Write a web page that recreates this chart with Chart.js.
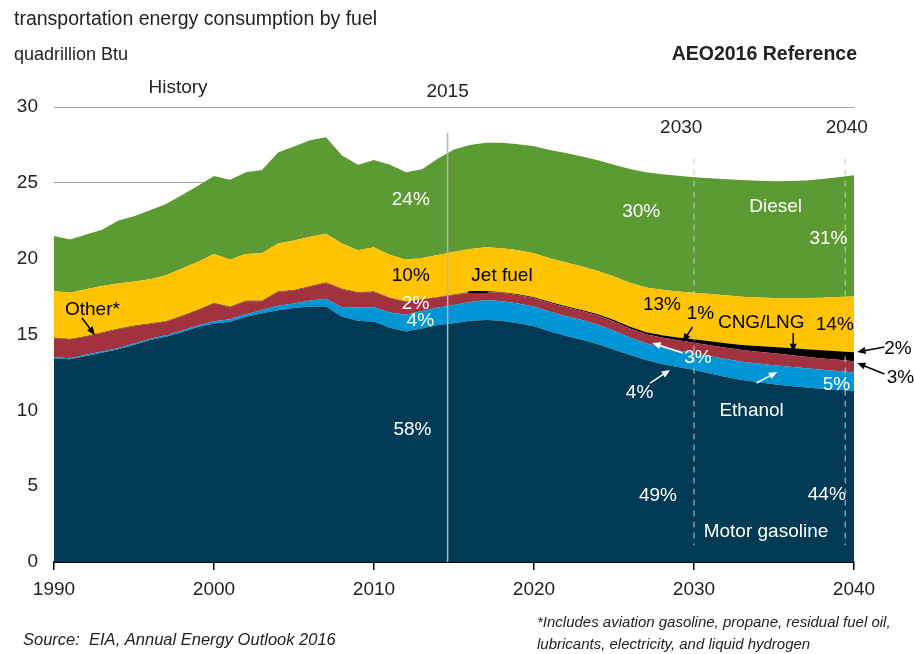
<!DOCTYPE html>
<html>
<head>
<meta charset="utf-8">
<title>transportation energy consumption by fuel</title>
<script src="https://cdn.jsdelivr.net/npm/chart.js@4.4.1/dist/chart.umd.min.js"></script>
<style>
  html, body { margin: 0; padding: 0; background: #fff; }
  canvas { display: block; }
</style>
</head>
<body>
<canvas id="fuel" width="914" height="654"></canvas>
<script>
// quadrillion Btu by fuel, 1990-2014 history, 2015-2040 AEO2016 Reference
const years = [1990, 1991, 1992, 1993, 1994, 1995, 1996, 1997, 1998, 1999,
  2000, 2001, 2002, 2003, 2004, 2005, 2006, 2007, 2008, 2009,
  2010, 2011, 2012, 2013, 2014, 2015, 2016, 2017, 2018, 2019,
  2020, 2021, 2022, 2023, 2024, 2025, 2026, 2027, 2028, 2029,
  2030, 2031, 2032, 2033, 2034, 2035, 2036, 2037, 2038, 2039, 2040];

const gasoline = [13.43, 13.36, 13.58, 13.8, 14.02, 14.3, 14.63, 14.85, 15.15, 15.5,
  15.73, 15.84, 16.17, 16.4, 16.6, 16.75, 16.85, 16.85, 16.17, 15.9,
  15.84, 15.45, 15.2, 15.4, 15.62, 15.75, 15.9, 15.95, 15.9, 15.75,
  15.55, 15.2, 14.9, 14.65, 14.35, 14.0, 13.65, 13.32, 13.05, 12.85,
  12.66, 12.43, 12.2, 12.0, 11.85, 11.72, 11.6, 11.5, 11.42, 11.35, 11.28];

const ethanol = [0.07, 0.07, 0.08, 0.08, 0.08, 0.1, 0.07, 0.1, 0.1, 0.1,
  0.15, 0.16, 0.16, 0.22, 0.3, 0.3, 0.4, 0.5, 0.63, 0.9,
  0.96, 1.0, 1.1, 1.15, 1.16, 1.2, 1.25, 1.32, 1.3, 1.3,
  1.3, 1.3, 1.3, 1.3, 1.3, 1.25, 1.15, 1.1, 1.1, 1.1,
  1.1, 1.13, 1.18, 1.2, 1.23, 1.26, 1.28, 1.28, 1.26, 1.25, 1.22];

const other = [1.25, 1.25, 1.19, 1.22, 1.25, 1.15, 1.0, 0.9, 0.95, 1.0,
  1.17, 0.8, 0.87, 0.58, 0.9, 0.85, 0.9, 1.05, 1.18, 0.95,
  1.0, 0.95, 0.85, 0.75, 0.67, 0.65, 0.6, 0.55, 0.55, 0.55,
  0.55, 0.58, 0.6, 0.6, 0.6, 0.6, 0.6, 0.6, 0.65, 0.67,
  0.7, 0.73, 0.75, 0.77, 0.78, 0.78, 0.77, 0.75, 0.74, 0.73, 0.73];

const cngLng = [0.03, 0.03, 0.03, 0.03, 0.03, 0.03, 0.03, 0.03, 0.03, 0.03,
  0.03, 0.03, 0.03, 0.03, 0.03, 0.03, 0.03, 0.03, 0.03, 0.03,
  0.03, 0.03, 0.03, 0.03, 0.03, 0.03, 0.03, 0.04, 0.04, 0.05,
  0.06, 0.06, 0.07, 0.07, 0.08, 0.1, 0.11, 0.13, 0.15, 0.18,
  0.22, 0.26, 0.3, 0.34, 0.38, 0.42, 0.46, 0.5, 0.54, 0.57, 0.6];

const jetFuel = [3.08, 3.04, 3.1, 3.07, 2.99, 2.92, 2.92, 3.02, 3.12, 3.17,
  3.22, 3.12, 3.07, 3.12, 3.17, 3.27, 3.27, 3.22, 2.99, 2.77,
  2.92, 2.82, 2.77, 2.72, 2.77, 2.82, 2.86, 2.9, 2.9, 2.9,
  2.9, 2.88, 2.87, 2.86, 2.86, 2.87, 2.9, 2.95, 3.0, 3.04,
  3.08, 3.12, 3.15, 3.18, 3.2, 3.23, 3.3, 3.38, 3.47, 3.57, 3.67];

const diesel = [3.64, 3.52, 3.62, 3.7, 4.13, 4.3, 4.55, 4.7, 4.85, 5.0,
  5.15, 5.25, 5.4, 5.5, 6.0, 6.2, 6.35, 6.35, 5.8, 5.65,
  5.75, 5.95, 5.75, 5.85, 6.35, 6.75, 6.85, 6.88, 6.95, 7.0,
  7.06, 7.15, 7.22, 7.25, 7.3, 7.38, 7.5, 7.6, 7.62, 7.62,
  7.6, 7.63, 7.66, 7.69, 7.7, 7.7, 7.71, 7.75, 7.82, 7.89, 8.0];

const yTicks = [0, 5, 10, 15, 20, 25, 30];
const xTicks = [1990, 2000, 2010, 2020, 2030, 2040];

const FONT = "'Liberation Sans', Arial, sans-serif";

// text inside / beside the plot, in (year, quadrillion Btu)
const areaLabels = [
  { text: '24%', x: 2012.3, y: 23.9, color: '#fff' },
  { text: '10%', x: 2012.3, y: 18.9, color: '#000' },
  { text: '2%', x: 2012.6, y: 17.0, color: '#fff' },
  { text: '4%', x: 2012.9, y: 15.9, color: '#fff' },
  { text: '58%', x: 2012.4, y: 8.7, color: '#fff' },
  { text: 'Jet fuel', x: 2018.0, y: 18.9, color: '#000' },
  { text: '30%', x: 2026.7, y: 23.1, color: '#fff' },
  { text: 'Diesel', x: 2035.1, y: 23.4, color: '#fff' },
  { text: '31%', x: 2038.4, y: 21.3, color: '#fff' },
  { text: '13%', x: 2028.0, y: 16.95, color: '#000' },
  { text: '1%', x: 2030.4, y: 16.35, color: '#000' },
  { text: 'CNG/LNG', x: 2034.2, y: 15.76, color: '#000' },
  { text: '14%', x: 2038.8, y: 15.63, color: '#000' },
  { text: '2%', x: 2042.75, y: 14.04, color: '#000' },
  { text: '3%', x: 2042.9, y: 12.13, color: '#000' },
  { text: '3%', x: 2030.25, y: 13.45, color: '#fff' },
  { text: '4%', x: 2026.6, y: 11.14, color: '#fff' },
  { text: '5%', x: 2038.9, y: 11.67, color: '#fff' },
  { text: 'Ethanol', x: 2033.6, y: 10.0, color: '#fff' },
  { text: '49%', x: 2027.75, y: 4.35, color: '#fff' },
  { text: '44%', x: 2038.3, y: 4.42, color: '#fff' },
  { text: 'Motor gasoline', x: 2034.5, y: 1.98, color: '#fff' },
  { text: 'Other*', x: 1992.4, y: 16.62, color: '#000' },
  { text: 'History', x: 1997.75, y: 31.25, color: '#222' },
  { text: '2015', x: 2014.6, y: 31.0, color: '#222' },
  { text: '2030', x: 2029.2, y: 28.6, color: '#222' },
  { text: '2040', x: 2039.55, y: 28.6, color: '#222' }
];

const arrows = [
  { from: [2029.9, 15.49], to: [2029.3, 14.51], color: '#000' },
  { from: [2036.2, 15.1], to: [2036.2, 13.85], color: '#000' },
  { from: [2041.9, 14.18], to: [2040.2, 13.85], color: '#000' },
  { from: [2041.9, 12.4], to: [2040.2, 13.12], color: '#000' },
  { from: [2029.3, 13.78], to: [2027.4, 14.44], color: '#fff' },
  { from: [2027.25, 11.8], to: [2028.5, 12.66], color: '#fff' },
  { from: [2033.9, 11.8], to: [2035.2, 12.53], color: '#fff' },
  { from: [1991.75, 16.09], to: [1992.55, 14.97], color: '#000' }
];

const toPoints = vals => vals.map((v, i) => ({ x: years[i], y: v }));

function area(label, vals, color, fill) {
  return {
    label, data: toPoints(vals), fill,
    backgroundColor: color, borderColor: color,
    borderWidth: 0, pointRadius: 0, tension: 0
  };
}

function drawArrow(ctx, x1, y1, x2, y2, color) {
  const ang = Math.atan2(y2 - y1, x2 - x1);
  const head = 9;
  ctx.strokeStyle = color;
  ctx.fillStyle = color;
  ctx.lineWidth = 1.5;
  ctx.beginPath();
  ctx.moveTo(x1, y1);
  ctx.lineTo(x2 - Math.cos(ang) * head * 0.8, y2 - Math.sin(ang) * head * 0.8);
  ctx.stroke();
  ctx.beginPath();
  ctx.moveTo(x2, y2);
  ctx.lineTo(x2 - head * Math.cos(ang - 0.4), y2 - head * Math.sin(ang - 0.4));
  ctx.lineTo(x2 - head * Math.cos(ang + 0.4), y2 - head * Math.sin(ang + 0.4));
  ctx.closePath();
  ctx.fill();
}

const overlay = {
  id: 'overlay',
  afterDatasetsDraw(chart) {
    const { ctx, scales: { x, y } } = chart;
    const px = v => x.getPixelForValue(v);
    const py = v => y.getPixelForValue(v);
    ctx.save();

    // history / projection divider
    ctx.strokeStyle = '#b4b4b4';
    ctx.lineWidth = 1.5;
    ctx.beginPath();
    ctx.moveTo(px(2014.6), py(28.3));
    ctx.lineTo(px(2014.6), py(0));
    ctx.stroke();

    // 2030 and 2040 markers
    ctx.strokeStyle = '#c8c8c8';
    ctx.lineWidth = 1;
    ctx.setLineDash([6, 5]);
    [2030, 2039.45].forEach(yr => {
      ctx.beginPath();
      ctx.moveTo(px(yr), py(26.6));
      ctx.lineTo(px(yr), py(1.1));
      ctx.stroke();
    });
    ctx.setLineDash([]);

    // short leader under "Jet fuel"
    ctx.strokeStyle = '#000';
    ctx.lineWidth = 2;
    ctx.beginPath();
    ctx.moveTo(px(2015.9), py(17.8));
    ctx.lineTo(px(2017.1), py(17.8));
    ctx.stroke();

    ctx.font = `19px ${FONT}`;
    ctx.textAlign = 'center';
    ctx.textBaseline = 'middle';
    areaLabels.forEach(l => {
      ctx.fillStyle = l.color;
      ctx.fillText(l.text, px(l.x), py(l.y));
    });

    arrows.forEach(a => drawArrow(ctx, px(a.from[0]), py(a.from[1]), px(a.to[0]), py(a.to[1]), a.color));
    ctx.restore();
  },
  afterDraw(chart) {
    const { ctx } = chart;
    ctx.save();
    ctx.fillStyle = '#222';
    ctx.textBaseline = 'middle';
    ctx.textAlign = 'left';
    ctx.font = `19.5px ${FONT}`;
    ctx.fillText('transportation energy consumption by fuel', 14, 20);
    ctx.font = `18px ${FONT}`;
    ctx.fillText('quadrillion Btu', 14, 55);
    ctx.font = `bold 19.5px ${FONT}`;
    ctx.textAlign = 'right';
    ctx.fillText('AEO2016 Reference', 857, 55);
    ctx.font = `italic 16.5px ${FONT}`;
    ctx.textAlign = 'left';
    ctx.fillText('Source:  EIA, Annual Energy Outlook 2016', 23, 640);
    ctx.font = `italic 15px ${FONT}`;
    ctx.fillText('*Includes aviation gasoline, propane, residual fuel oil,', 537, 623);
    ctx.fillText('lubricants, electricity, and liquid hydrogen', 537, 645);
    ctx.restore();
  }
};

new Chart(document.getElementById('fuel'), {
  type: 'line',
  data: {
    datasets: [
      area('Motor gasoline', gasoline, '#003a54', 'origin'),
      area('Ethanol', ethanol, '#0096d6', '-1'),
      area('Other*', other, '#a33241', '-1'),
      area('CNG/LNG', cngLng, '#000000', '-1'),
      area('Jet fuel', jetFuel, '#ffc300', '-1'),
      area('Diesel', diesel, '#5c9a33', '-1')
    ]
  },
  options: {
    responsive: false,
    animation: false,
    events: [],
    layout: { padding: { left: 14, top: 107, right: 60, bottom: 50 } },
    plugins: { legend: { display: false }, tooltip: { enabled: false } },
    scales: {
      x: {
        type: 'linear', min: 1990, max: 2040, z: 1,
        afterBuildTicks: s => { s.ticks = xTicks.map(v => ({ value: v })); },
        afterFit: s => { s.height = 42; },
        ticks: { color: '#222', font: { family: FONT, size: 19 }, padding: 8, maxRotation: 0,
          callback: v => String(v) },
        grid: { drawOnChartArea: false, drawTicks: true, tickLength: 8, color: '#000', lineWidth: 1.5 },
        border: { color: '#000', width: 2 }
      },
      y: {
        stacked: true, min: 0, max: 30,
        afterBuildTicks: s => { s.ticks = yTicks.map(v => ({ value: v })); },
        afterFit: s => { s.width = 40; },
        ticks: { color: '#222', font: { family: FONT, size: 19 }, padding: 16 },
        grid: { color: '#a0a0a0', lineWidth: 1, drawTicks: false },
        border: { display: false }
      }
    }
  },
  plugins: [overlay]
});
</script>
</body>
</html>
